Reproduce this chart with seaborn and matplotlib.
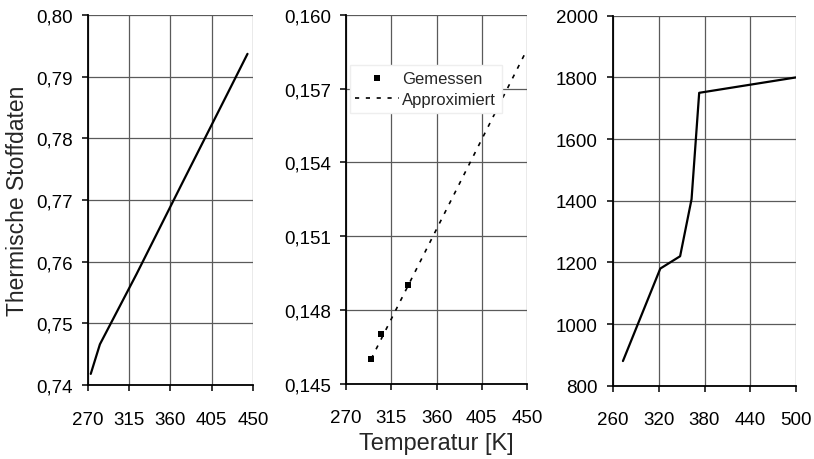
import matplotlib
matplotlib.use("Agg")
import matplotlib.pyplot as plt
import seaborn as sns
import pandas as pd
from matplotlib.ticker import FixedLocator, FuncFormatter

# ---- data ----
t1 = [273, 283, 323, 373, 423, 444]
v1 = [0.7418, 0.7466, 0.7580, 0.7728, 0.7875, 0.7937]

t_meas = [295, 305, 332]
v_meas = [0.1460, 0.1470, 0.1490]
t_appr = [295, 450]
v_appr = [0.1460, 0.1586]

t3 = [273, 322, 348, 363, 373, 500]
v3 = [880, 1180, 1220, 1405, 1750, 1800]

xt1 = [270, 315, 360, 405, 450]
yt1 = [0.74, 0.75, 0.76, 0.77, 0.78, 0.79, 0.80]
xt2 = [270, 315, 360, 405, 450]
yt2 = [0.145, 0.148, 0.151, 0.154, 0.157, 0.160]
xt3 = [260, 320, 380, 440, 500]
yt3 = [800, 1000, 1200, 1400, 1600, 1800, 2000]

sns.set_theme(style="white")
plt.rcParams['font.family'] = ['Liberation Sans', 'DejaVu Sans']

fig = plt.figure(figsize=(8.14, 4.60), dpi=100)
ax1 = fig.add_axes([0.1081, 0.1609, 0.2027, 0.8043])
ax2 = fig.add_axes([0.4251, 0.1641, 0.2224, 0.8011])
ax3 = fig.add_axes([0.7531, 0.1593, 0.2248, 0.8043])


def comma_fmt(dec):
    return FuncFormatter(lambda v, p: f"{v:.{dec}f}".replace(".", ","))


def style(ax, xt, yt, ydec):
    ax.set_xlim(xt[0], xt[-1])
    ax.set_ylim(yt[0], yt[-1])
    ax.xaxis.set_major_locator(FixedLocator(xt))
    ax.yaxis.set_major_locator(FixedLocator(yt))
    ax.yaxis.set_major_formatter(comma_fmt(ydec))
    ax.grid(True, color="#5a5a5a", linewidth=0.9)
    for s in ["top", "right"]:
        ax.spines[s].set_visible(False)
    for s in ["left", "bottom"]:
        ax.spines[s].set_color("black")
        ax.spines[s].set_linewidth(1.3)
        ax.spines[s].set_zorder(3)
    ax.tick_params(axis="both", direction="out", length=4.5, width=1.1,
                   color="black", labelsize=13.5,
                   left=True, bottom=True, labelcolor="black")
    ax.tick_params(axis="x", pad=14)
    ax.tick_params(axis="y", pad=6.5)
    ax.set_xlabel("")
    ax.set_ylabel("")


df1 = pd.DataFrame({"T": t1, "v": v1})
sns.lineplot(data=df1, x="T", y="v", ax=ax1, color="black", linewidth=1.6)
style(ax1, xt1, yt1, 2)
ax1.set_ylabel("Thermische Stoffdaten", fontsize=16.5, labelpad=5)

dfm = pd.DataFrame({"T": t_meas, "v": v_meas})
dfa = pd.DataFrame({"T": t_appr, "v": v_appr})
sns.lineplot(data=dfa, x="T", y="v", ax=ax2, color="black", linewidth=1.2,
             linestyle=(0, (2.5, 4)), label="Approximiert", zorder=4)
sns.scatterplot(data=dfm, x="T", y="v", ax=ax2, color="black", marker="s",
                s=16, linewidth=0, label="Gemessen", zorder=5)
style(ax2, xt2, yt2, 3)
ax2.set_xlabel("Temperatur [K]", fontsize=17, labelpad=4)
h, l = ax2.get_legend_handles_labels()
order = [l.index("Gemessen"), l.index("Approximiert")]
leg = ax2.legend([h[i] for i in order], [l[i] for i in order],
                 loc="upper left", bbox_to_anchor=(0.02, 0.865),
                 borderaxespad=0, fontsize=12, frameon=True, fancybox=False,
                 edgecolor="#eeeeee", framealpha=1, handlelength=2.6,
                 handletextpad=0.2, borderpad=0.35, labelspacing=0.4)
leg.set_zorder(6)

df3 = pd.DataFrame({"T": t3, "v": v3})
sns.lineplot(data=df3, x="T", y="v", ax=ax3, color="black", linewidth=1.6)
style(ax3, xt3, yt3, 0)

fig.savefig("out.png", dpi=100)
